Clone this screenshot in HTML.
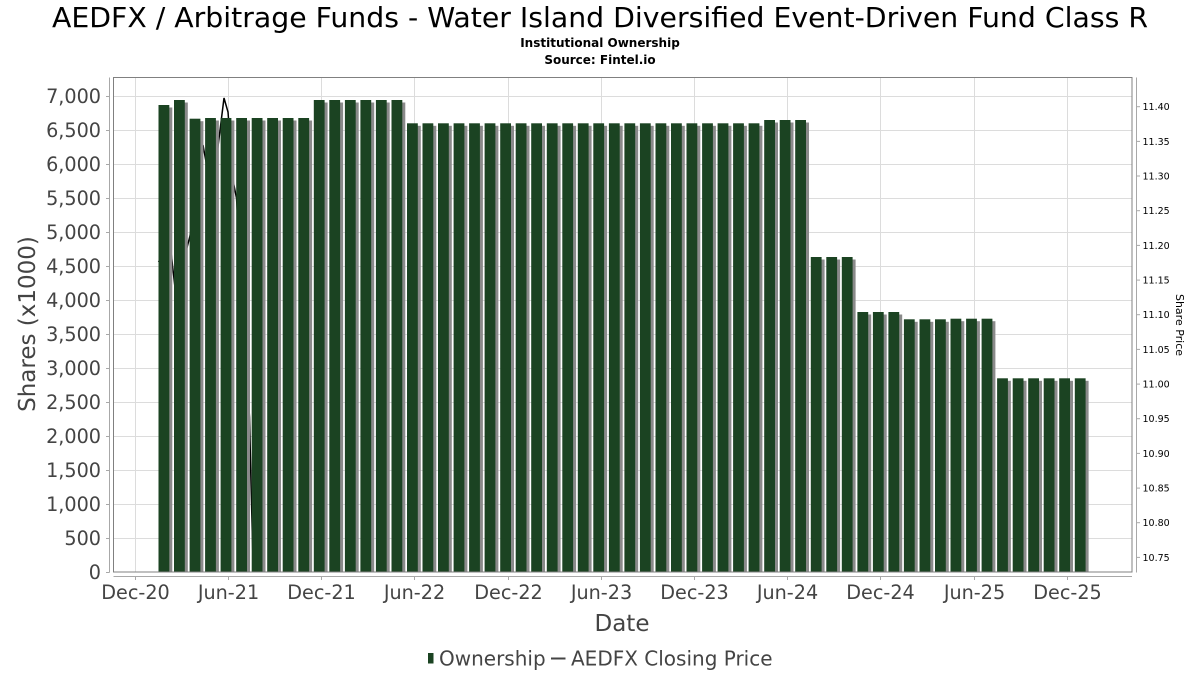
<!DOCTYPE html>
<html><head><meta charset="utf-8"><style>
html,body{margin:0;padding:0;background:#fff;}
svg{display:block;}
text{font-family:"DejaVu Sans","Liberation Sans",sans-serif;}
</style></head><body>
<svg width="1200" height="675" viewBox="0 0 1200 675" xmlns="http://www.w3.org/2000/svg">
<defs><clipPath id="pc"><rect x="113.5" y="77.5" width="1018.5" height="494.5"/></clipPath></defs>
<rect width="1200" height="675" fill="#fff"/>
<text x="52" y="27" font-size="28" fill="#000" textLength="1096" lengthAdjust="spacingAndGlyphs">AEDFX / Arbitrage Funds - Water Island Diversified Event-Driven Fund Class R</text>
<text x="600" y="47" font-size="12" font-weight="bold" text-anchor="middle" fill="#000">Institutional Ownership</text>
<text x="600" y="64" font-size="12" font-weight="bold" text-anchor="middle" fill="#000">Source: Fintel.io</text>
<g stroke="#dcdcdc" stroke-width="1">
<line x1="113.5" x2="1132" y1="538.5" y2="538.5"/><line x1="113.5" x2="1132" y1="504.5" y2="504.5"/><line x1="113.5" x2="1132" y1="470.5" y2="470.5"/><line x1="113.5" x2="1132" y1="436.5" y2="436.5"/><line x1="113.5" x2="1132" y1="402.5" y2="402.5"/><line x1="113.5" x2="1132" y1="368.5" y2="368.5"/><line x1="113.5" x2="1132" y1="334.5" y2="334.5"/><line x1="113.5" x2="1132" y1="300.5" y2="300.5"/><line x1="113.5" x2="1132" y1="266.5" y2="266.5"/><line x1="113.5" x2="1132" y1="232.5" y2="232.5"/><line x1="113.5" x2="1132" y1="198.5" y2="198.5"/><line x1="113.5" x2="1132" y1="164.5" y2="164.5"/><line x1="113.5" x2="1132" y1="130.5" y2="130.5"/><line x1="113.5" x2="1132" y1="96.5" y2="96.5"/>
<line y1="77.5" y2="572" x1="135.5" x2="135.5"/><line y1="77.5" y2="572" x1="228.5" x2="228.5"/><line y1="77.5" y2="572" x1="321.5" x2="321.5"/><line y1="77.5" y2="572" x1="414.5" x2="414.5"/><line y1="77.5" y2="572" x1="508.5" x2="508.5"/><line y1="77.5" y2="572" x1="601.5" x2="601.5"/><line y1="77.5" y2="572" x1="694.5" x2="694.5"/><line y1="77.5" y2="572" x1="787.5" x2="787.5"/><line y1="77.5" y2="572" x1="880.5" x2="880.5"/><line y1="77.5" y2="572" x1="974.5" x2="974.5"/><line y1="77.5" y2="572" x1="1067.5" x2="1067.5"/>
</g>
<g clip-path="url(#pc)">
<path d="M158.5,262 L170,243 L175.5,292 L190,236 L203,145 L212,195 L224,98 L228,112 L233.5,183 L236.5,198 L249.5,417 L251,483 L254,600" fill="none" stroke="#000" stroke-width="1.5"/>
<g fill="#8a8a8a">
<rect x="161.5" y="107.5" width="10.8" height="465"/><rect x="177.0" y="102.5" width="10.8" height="470"/><rect x="192.6" y="121.2" width="10.8" height="451"/><rect x="208.1" y="120.5" width="10.8" height="452"/><rect x="223.6" y="120.5" width="10.8" height="452"/><rect x="239.2" y="120.5" width="10.8" height="452"/><rect x="254.7" y="120.5" width="10.8" height="452"/><rect x="270.2" y="120.5" width="10.8" height="452"/><rect x="285.7" y="120.5" width="10.8" height="452"/><rect x="301.3" y="120.5" width="10.8" height="452"/>
<rect x="316.8" y="102.5" width="10.8" height="470"/><rect x="332.3" y="102.5" width="10.8" height="470"/><rect x="347.9" y="102.5" width="10.8" height="470"/><rect x="363.4" y="102.5" width="10.8" height="470"/><rect x="378.9" y="102.5" width="10.8" height="470"/><rect x="394.5" y="102.5" width="10.8" height="470"/>
<rect x="410.0" y="125.8" width="10.8" height="447"/><rect x="425.5" y="125.8" width="10.8" height="447"/><rect x="441.0" y="125.8" width="10.8" height="447"/><rect x="456.6" y="125.8" width="10.8" height="447"/><rect x="472.1" y="125.8" width="10.8" height="447"/><rect x="487.6" y="125.8" width="10.8" height="447"/><rect x="503.2" y="125.8" width="10.8" height="447"/><rect x="518.7" y="125.8" width="10.8" height="447"/><rect x="534.2" y="125.8" width="10.8" height="447"/><rect x="549.8" y="125.8" width="10.8" height="447"/><rect x="565.3" y="125.8" width="10.8" height="447"/><rect x="580.8" y="125.8" width="10.8" height="447"/><rect x="596.3" y="125.8" width="10.8" height="447"/><rect x="611.9" y="125.8" width="10.8" height="447"/><rect x="627.4" y="125.8" width="10.8" height="447"/><rect x="642.9" y="125.8" width="10.8" height="447"/><rect x="658.5" y="125.8" width="10.8" height="447"/><rect x="674.0" y="125.8" width="10.8" height="447"/><rect x="689.5" y="125.8" width="10.8" height="447"/><rect x="705.1" y="125.8" width="10.8" height="447"/><rect x="720.6" y="125.8" width="10.8" height="447"/><rect x="736.1" y="125.8" width="10.8" height="447"/><rect x="751.6" y="125.8" width="10.8" height="447"/>
<rect x="767.2" y="122.5" width="10.8" height="450"/><rect x="782.7" y="122.5" width="10.8" height="450"/><rect x="798.2" y="122.5" width="10.8" height="450"/>
<rect x="813.8" y="259.5" width="10.8" height="313"/><rect x="829.3" y="259.5" width="10.8" height="313"/><rect x="844.8" y="259.5" width="10.8" height="313"/>
<rect x="860.4" y="314.5" width="10.8" height="258"/><rect x="875.9" y="314.5" width="10.8" height="258"/><rect x="891.4" y="314.5" width="10.8" height="258"/>
<rect x="906.9" y="321.8" width="10.8" height="251"/><rect x="922.5" y="321.8" width="10.8" height="251"/><rect x="938.0" y="321.8" width="10.8" height="251"/><rect x="953.5" y="321.2" width="10.8" height="251"/><rect x="969.1" y="321.2" width="10.8" height="251"/><rect x="984.6" y="321.2" width="10.8" height="251"/>
<rect x="1000.1" y="380.8" width="10.8" height="192"/><rect x="1015.7" y="380.8" width="10.8" height="192"/><rect x="1031.2" y="380.8" width="10.8" height="192"/><rect x="1046.7" y="380.8" width="10.8" height="192"/><rect x="1062.2" y="380.8" width="10.8" height="192"/><rect x="1077.8" y="380.8" width="10.8" height="192"/>
</g>
<g fill="#1b4322">
<rect x="158.5" y="105" width="10.8" height="467"/><rect x="174.0" y="100" width="10.8" height="472"/><rect x="189.6" y="118.7" width="10.8" height="453.3"/><rect x="205.1" y="118" width="10.8" height="454"/><rect x="220.6" y="118" width="10.8" height="454"/><rect x="236.2" y="118" width="10.8" height="454"/><rect x="251.7" y="118" width="10.8" height="454"/><rect x="267.2" y="118" width="10.8" height="454"/><rect x="282.7" y="118" width="10.8" height="454"/><rect x="298.3" y="118" width="10.8" height="454"/>
<rect x="313.8" y="100" width="10.8" height="472"/><rect x="329.3" y="100" width="10.8" height="472"/><rect x="344.9" y="100" width="10.8" height="472"/><rect x="360.4" y="100" width="10.8" height="472"/><rect x="375.9" y="100" width="10.8" height="472"/><rect x="391.5" y="100" width="10.8" height="472"/>
<rect x="407.0" y="123.3" width="10.8" height="448.7"/><rect x="422.5" y="123.3" width="10.8" height="448.7"/><rect x="438.0" y="123.3" width="10.8" height="448.7"/><rect x="453.6" y="123.3" width="10.8" height="448.7"/><rect x="469.1" y="123.3" width="10.8" height="448.7"/><rect x="484.6" y="123.3" width="10.8" height="448.7"/><rect x="500.2" y="123.3" width="10.8" height="448.7"/><rect x="515.7" y="123.3" width="10.8" height="448.7"/><rect x="531.2" y="123.3" width="10.8" height="448.7"/><rect x="546.8" y="123.3" width="10.8" height="448.7"/><rect x="562.3" y="123.3" width="10.8" height="448.7"/><rect x="577.8" y="123.3" width="10.8" height="448.7"/><rect x="593.3" y="123.3" width="10.8" height="448.7"/><rect x="608.9" y="123.3" width="10.8" height="448.7"/><rect x="624.4" y="123.3" width="10.8" height="448.7"/><rect x="639.9" y="123.3" width="10.8" height="448.7"/><rect x="655.5" y="123.3" width="10.8" height="448.7"/><rect x="671.0" y="123.3" width="10.8" height="448.7"/><rect x="686.5" y="123.3" width="10.8" height="448.7"/><rect x="702.1" y="123.3" width="10.8" height="448.7"/><rect x="717.6" y="123.3" width="10.8" height="448.7"/><rect x="733.1" y="123.3" width="10.8" height="448.7"/><rect x="748.6" y="123.3" width="10.8" height="448.7"/>
<rect x="764.2" y="120" width="10.8" height="452"/><rect x="779.7" y="120" width="10.8" height="452"/><rect x="795.2" y="120" width="10.8" height="452"/>
<rect x="810.8" y="257" width="10.8" height="315"/><rect x="826.3" y="257" width="10.8" height="315"/><rect x="841.8" y="257" width="10.8" height="315"/>
<rect x="857.4" y="312" width="10.8" height="260"/><rect x="872.9" y="312" width="10.8" height="260"/><rect x="888.4" y="312" width="10.8" height="260"/>
<rect x="903.9" y="319.3" width="10.8" height="252.7"/><rect x="919.5" y="319.3" width="10.8" height="252.7"/><rect x="935.0" y="319.3" width="10.8" height="252.7"/><rect x="950.5" y="318.7" width="10.8" height="253.3"/><rect x="966.1" y="318.7" width="10.8" height="253.3"/><rect x="981.6" y="318.7" width="10.8" height="253.3"/>
<rect x="997.1" y="378.3" width="10.8" height="193.7"/><rect x="1012.7" y="378.3" width="10.8" height="193.7"/><rect x="1028.2" y="378.3" width="10.8" height="193.7"/><rect x="1043.7" y="378.3" width="10.8" height="193.7"/><rect x="1059.2" y="378.3" width="10.8" height="193.7"/><rect x="1074.8" y="378.3" width="10.8" height="193.7"/>
</g>
</g>
<rect x="113.5" y="77.5" width="1018.5" height="494.5" fill="none" stroke="#808080" stroke-width="1"/>
<g stroke="#a8a8a8" stroke-width="1">
<line x1="109.5" y1="77.5" x2="109.5" y2="572.5"/>
<line x1="113.5" y1="576.5" x2="1132" y2="576.5"/>
<line x1="1136.5" y1="77.5" x2="1136.5" y2="572.5"/>
<line x1="106" x2="109.5" y1="572.5" y2="572.5"/><line x1="106" x2="109.5" y1="538.5" y2="538.5"/><line x1="106" x2="109.5" y1="504.5" y2="504.5"/><line x1="106" x2="109.5" y1="470.5" y2="470.5"/><line x1="106" x2="109.5" y1="436.5" y2="436.5"/><line x1="106" x2="109.5" y1="402.5" y2="402.5"/><line x1="106" x2="109.5" y1="368.5" y2="368.5"/><line x1="106" x2="109.5" y1="334.5" y2="334.5"/><line x1="106" x2="109.5" y1="300.5" y2="300.5"/><line x1="106" x2="109.5" y1="266.5" y2="266.5"/><line x1="106" x2="109.5" y1="232.5" y2="232.5"/><line x1="106" x2="109.5" y1="198.5" y2="198.5"/><line x1="106" x2="109.5" y1="164.5" y2="164.5"/><line x1="106" x2="109.5" y1="130.5" y2="130.5"/><line x1="106" x2="109.5" y1="96.5" y2="96.5"/>
<line y1="576.5" y2="580" x1="135.5" x2="135.5"/><line y1="576.5" y2="580" x1="228.5" x2="228.5"/><line y1="576.5" y2="580" x1="321.5" x2="321.5"/><line y1="576.5" y2="580" x1="414.5" x2="414.5"/><line y1="576.5" y2="580" x1="508.5" x2="508.5"/><line y1="576.5" y2="580" x1="601.5" x2="601.5"/><line y1="576.5" y2="580" x1="694.5" x2="694.5"/><line y1="576.5" y2="580" x1="787.5" x2="787.5"/><line y1="576.5" y2="580" x1="880.5" x2="880.5"/><line y1="576.5" y2="580" x1="974.5" x2="974.5"/><line y1="576.5" y2="580" x1="1067.5" x2="1067.5"/>
<line x1="1136.5" x2="1140" y1="106.7" y2="106.7"/><line x1="1136.5" x2="1140" y1="141.4" y2="141.4"/><line x1="1136.5" x2="1140" y1="176" y2="176"/><line x1="1136.5" x2="1140" y1="210.7" y2="210.7"/><line x1="1136.5" x2="1140" y1="245.4" y2="245.4"/><line x1="1136.5" x2="1140" y1="280.1" y2="280.1"/><line x1="1136.5" x2="1140" y1="314.7" y2="314.7"/><line x1="1136.5" x2="1140" y1="349.4" y2="349.4"/><line x1="1136.5" x2="1140" y1="384.1" y2="384.1"/><line x1="1136.5" x2="1140" y1="418.7" y2="418.7"/><line x1="1136.5" x2="1140" y1="453.4" y2="453.4"/><line x1="1136.5" x2="1140" y1="488.1" y2="488.1"/><line x1="1136.5" x2="1140" y1="522.7" y2="522.7"/><line x1="1136.5" x2="1140" y1="557.4" y2="557.4"/>
</g>
<g font-size="19.2" fill="#444" text-anchor="end">
<text x="101" y="579">0</text><text x="101" y="545">500</text><text x="101" y="511">1,000</text><text x="101" y="477">1,500</text><text x="101" y="443">2,000</text><text x="101" y="409">2,500</text><text x="101" y="375">3,000</text><text x="101" y="341">3,500</text><text x="101" y="307">4,000</text><text x="101" y="273">4,500</text><text x="101" y="239">5,000</text><text x="101" y="205">5,500</text><text x="101" y="171">6,000</text><text x="101" y="137">6,500</text><text x="101" y="103">7,000</text>
</g>
<g font-size="19.2" fill="#444" text-anchor="middle">
<text x="135.5" y="599">Dec-20</text><text x="228.5" y="599">Jun-21</text><text x="321.5" y="599">Dec-21</text><text x="414.5" y="599">Jun-22</text><text x="508.5" y="599">Dec-22</text><text x="601.5" y="599">Jun-23</text><text x="694.5" y="599">Dec-23</text><text x="787.5" y="599">Jun-24</text><text x="880.5" y="599">Dec-24</text><text x="974.5" y="599">Jun-25</text><text x="1067.5" y="599">Dec-25</text>
</g>
<g font-size="9.5" fill="#000">
<text x="1142.5" y="110.2">11.40</text><text x="1142.5" y="144.9">11.35</text><text x="1142.5" y="179.5">11.30</text><text x="1142.5" y="214.2">11.25</text><text x="1142.5" y="248.9">11.20</text><text x="1142.5" y="283.6">11.15</text><text x="1142.5" y="318.2">11.10</text><text x="1142.5" y="352.9">11.05</text><text x="1142.5" y="387.6">11.00</text><text x="1142.5" y="422.2">10.95</text><text x="1142.5" y="456.9">10.90</text><text x="1142.5" y="491.6">10.85</text><text x="1142.5" y="526.2">10.80</text><text x="1142.5" y="560.9">10.75</text>
</g>
<text x="622" y="631" font-size="23" fill="#444" text-anchor="middle">Date</text>
<text transform="translate(35,324) rotate(-90)" font-size="23" fill="#444" text-anchor="middle">Shares (x1000)</text>
<text transform="translate(1176,325) rotate(90)" font-size="11" fill="#000" text-anchor="middle">Share Price</text>
<rect x="428" y="653" width="5.5" height="10.5" fill="#1b4322"/>
<text x="439" y="665.5" font-size="20" fill="#444">Ownership</text>
<rect x="551" y="657.5" width="14.5" height="2" fill="#444"/>
<text x="571" y="665.5" font-size="20" fill="#444">AEDFX Closing Price</text>
</svg>
</body></html>
